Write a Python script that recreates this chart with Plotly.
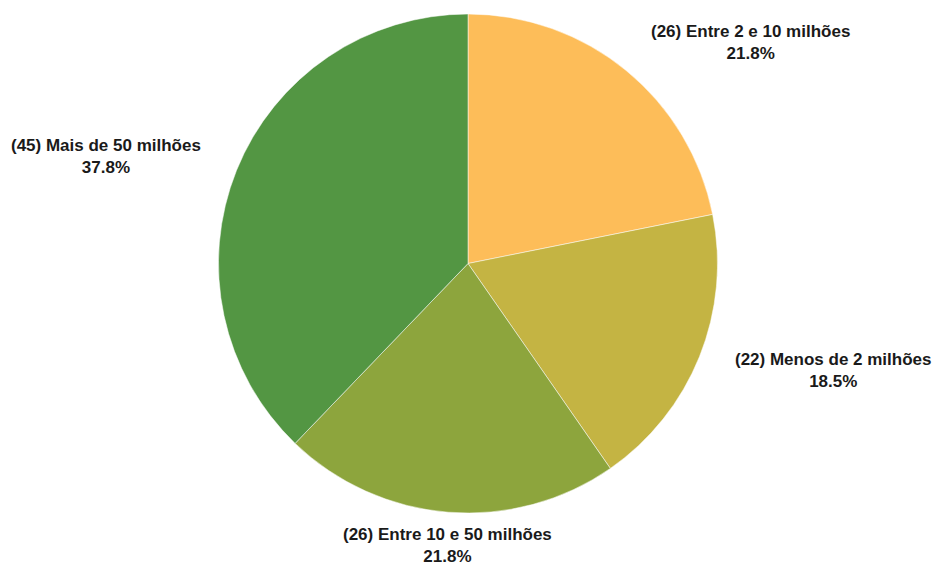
import math
import plotly.graph_objects as go

categories = ["Entre 2 e 10 milhões", "Menos de 2 milhões", "Entre 10 e 50 milhões", "Mais de 50 milhões"]
counts = [26, 22, 26, 45]
colors = ["#FDBD59", "#C4B443", "#8DA53D", "#539643"]

W, H = 933, 567
cx, cy, r = 468, 263.5, 249.5

fig = go.Figure(go.Pie(
    labels=categories,
    values=counts,
    sort=False,
    direction="clockwise",
    rotation=0,
    marker=dict(colors=colors, line=dict(color="white", width=0.5)),
    textinfo="none",
    hoverinfo="label+value+percent",
    showlegend=False,
    domain=dict(x=[(cx - r) / W, (cx + r) / W], y=[(H - cy - r) / H, (H - cy + r) / H]),
))

# Outside labels: placed along each slice's mid-angle (clockwise from 12 o'clock)
total = sum(counts)
start = 0.0
annotations = []
for cat, n in zip(categories, counts):
    frac = n / total
    mid = (start + frac / 2) * 2 * math.pi
    start += frac
    s, c = math.sin(mid), math.cos(mid)
    if abs(s) > 0.5:
        rad = r + 36
        xanchor = "left" if s > 0 else "right"
        yanchor = "middle"
    else:
        rad = r + 11
        xanchor = "center"
        yanchor = "bottom" if c > 0 else "top"
    px = cx + rad * s
    py = cy - rad * c
    annotations.append(dict(
        x=px / W, y=(H - py) / H, xref="paper", yref="paper",
        xanchor=xanchor, yanchor=yanchor, showarrow=False, align="center",
        text=f"<b>({n}) {cat}<br>{frac * 100:.1f}%</b>",
        font=dict(family="Liberation Sans, Arial, sans-serif", size=17, color="#1a1a1a"),
    ))

fig.update_layout(
    width=W, height=H,
    margin=dict(l=0, r=0, t=0, b=0),
    paper_bgcolor="white",
    plot_bgcolor="white",
    annotations=annotations,
)

fig.write_html("out.html")
